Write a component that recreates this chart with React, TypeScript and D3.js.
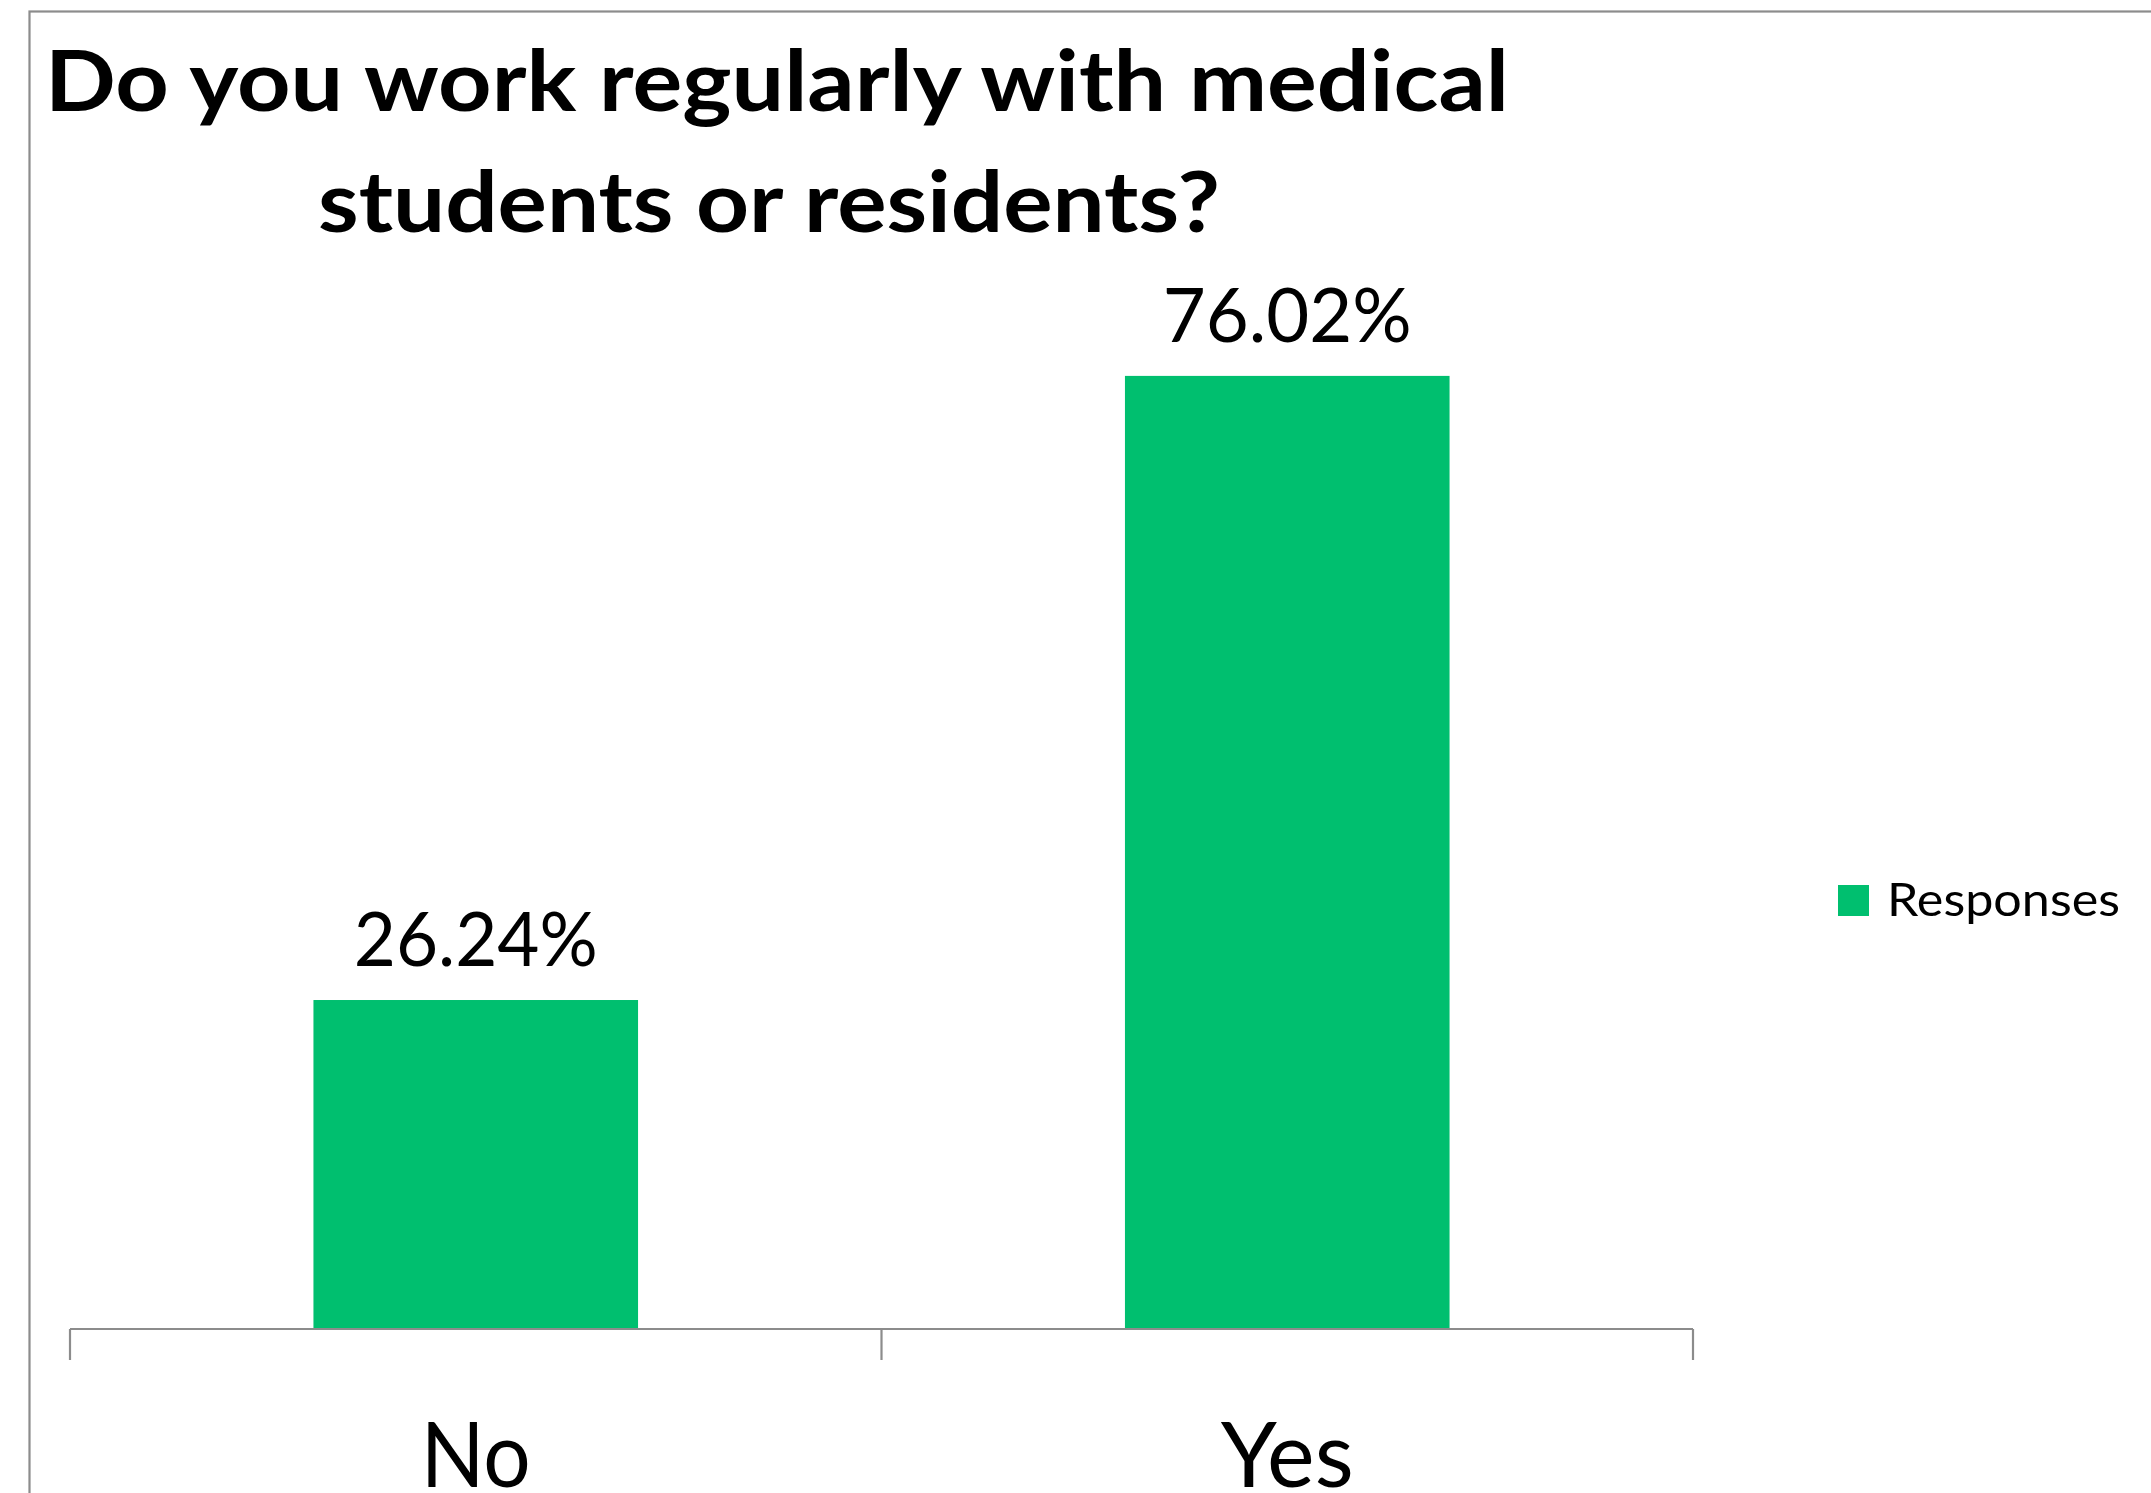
import React from "react";
import * as d3 from "d3";

const categories: string[] = ["No", "Yes"];
const values: number[] = [26.24, 76.02];
const valueLabels: string[] = ["26.24%", "76.02%"];
const seriesName = "Responses";
const titleLines: string[] = ["Do you work regularly with medical", "students or residents?"];

const W = 2151;
const H = 1493;
const GREEN = "#00BF6F";
const GRAY = "#8C8C8C";
const FONT = "Lato, 'Open Sans', sans-serif";

export default function App() {
  const x = d3
    .scaleBand<string>()
    .domain(categories)
    .range([70, 1693])
    .paddingInner(0.6)
    .paddingOuter(0.3);
  const y = d3.scaleLinear().domain([0, 80]).range([1329, 326]);
  const step = x.step();
  const axisY = y(0);
  const tickXs = [70, 70 + step, 70 + 2 * step];

  const labelLens = [244, 249];
  const catLens = [110, 133];

  return (
    <svg
      width={W}
      height={H}
      style={{ position: "absolute", left: 0, top: 0, display: "block", background: "#fff" }}
    >
      <rect x={0} y={0} width={W} height={H} fill="#fff" />
      {/* chart border */}
      <rect x={29.5} y={11.5} width={2400} height={1700} fill="none" stroke={GRAY} strokeWidth={2.2} />

      {/* title */}
      <text x={45} y={110.5} fontFamily={FONT} fontWeight={700} fontSize={84} fill="#000"
        textLength={1464} lengthAdjust="spacingAndGlyphs">
        {titleLines[0]}
      </text>
      <text x={318} y={231.5} fontFamily={FONT} fontWeight={700} fontSize={84} fill="#000"
        textLength={902} lengthAdjust="spacingAndGlyphs">
        {titleLines[1]}
      </text>

      {/* bars */}
      {categories.map((c, i) => (
        <rect
          key={c}
          x={x(c)}
          y={y(values[i])}
          width={x.bandwidth()}
          height={axisY - y(values[i])}
          fill={GREEN}
        />
      ))}

      {/* data labels */}
      {categories.map((c, i) => (
        <text
          key={"l" + c}
          x={(x(c) as number) + x.bandwidth() / 2}
          y={y(values[i]) - 34}
          textAnchor="middle"
          fontFamily={FONT}
          fontSize={76}
          fill="#000"
          textLength={labelLens[i]}
          lengthAdjust="spacingAndGlyphs"
        >
          {valueLabels[i]}
        </text>
      ))}

      {/* axis */}
      <line x1={70} x2={1693} y1={axisY} y2={axisY} stroke={GRAY} strokeWidth={2.2} />
      {tickXs.map((tx, i) => (
        <line key={"t" + i} x1={tx} x2={tx} y1={axisY} y2={axisY + 31} stroke={GRAY} strokeWidth={2.2} />
      ))}

      {/* category labels */}
      {categories.map((c, i) => (
        <text
          key={"c" + c}
          x={(x(c) as number) + x.bandwidth() / 2}
          y={1487}
          textAnchor="middle"
          fontFamily={FONT}
          fontSize={91}
          fill="#000"
          textLength={catLens[i]}
          lengthAdjust="spacingAndGlyphs"
        >
          {c}
        </text>
      ))}

      {/* legend */}
      <rect x={1838} y={885} width={31} height={31} fill={GREEN} />
      <text x={1887} y={915.5} fontFamily={FONT} fontSize={47} fill="#000"
        textLength={233} lengthAdjust="spacingAndGlyphs">
        {seriesName}
      </text>
    </svg>
  );
}
